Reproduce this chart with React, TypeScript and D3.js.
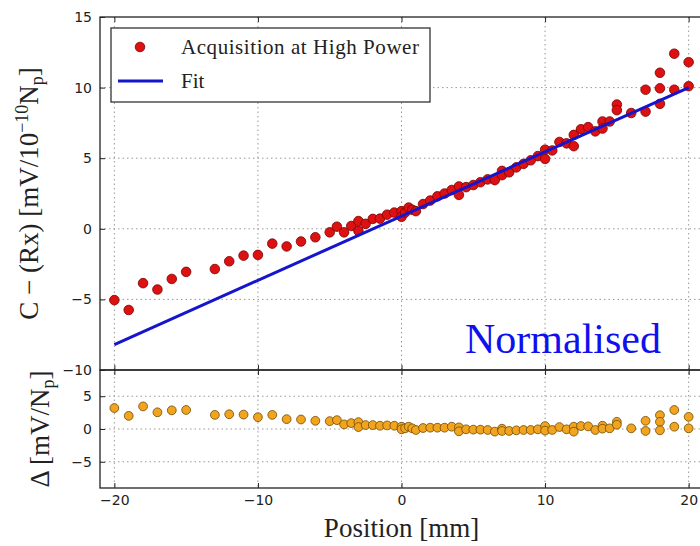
import React, { useEffect, useRef } from 'react';
import * as d3 from 'd3';

// position of each acquisition [mm]
const positions = [
  -20, -19, -18, -17, -16, -15, -13, -12, -11, -10, -9, -8, -7, -6, -5, -4.5, -4, -3.5, -3, -3,
  -2.5, -2, -1.5, -1, -0.5, 0, 0, 0.25, 0.5, 0.75, 1, 1.5, 2, 2.5, 3, 3.5, 4, 4, 4.5, 5,
  5.5, 6, 6.5, 7, 7, 7.5, 8, 8.5, 9, 9.5, 10, 10, 10.5, 11, 11.5, 12, 12, 12.5, 13, 13.5,
  14, 14, 14.5, 15, 15, 16, 17, 17, 18, 18, 18, 19, 19, 20, 20,
];
// C - (Rx) at high power
const acquisition = [
  -5.05, -5.75, -3.85, -4.3, -3.55, -3.05, -2.85, -2.3, -1.9, -1.85, -1.05, -1.25, -0.9, -0.6, -0.25, 0.15, -0.25, 0.2, 0.55, -0.15,
  0.35, 0.7, 0.72, 1.0, 1.15, 1.25, 0.85, 1.15, 1.5, 1.35, 1.25, 1.75, 2.0, 2.3, 2.5, 2.75, 3.0, 2.4, 2.95, 3.1,
  3.3, 3.5, 3.45, 4.1, 3.8, 4.0, 4.35, 4.6, 4.85, 5.15, 5.6, 4.95, 5.55, 6.15, 6.05, 6.65, 5.85, 7.05, 7.2, 6.9,
  7.6, 7.1, 7.6, 8.8, 8.4, 8.2, 9.85, 8.3, 11.05, 9.95, 8.85, 12.4, 9.85, 11.8, 10.1,
];
// residuals to the fit
const residuals = [
  3.2, 2.0, 3.45, 2.55, 2.85, 2.9, 2.15, 2.25, 2.2, 1.8, 2.15, 1.5, 1.45, 1.25, 1.2, 1.35, 0.7, 0.9, 1.05, 0.3,
  0.6, 0.6, 0.5, 0.55, 0.5, 0.35, -0.05, 0.1, 0.35, 0.1, -0.15, 0.15, 0.2, 0.2, 0.2, 0.35, 0.25, -0.35, -0.05, -0.1,
  -0.1, -0.15, -0.4, 0.05, -0.3, -0.3, -0.2, -0.15, -0.15, -0.05, 0.45, -0.25, -0.15, 0.3, -0.05, 0.35, -0.4, 0.45, 0.4, -0.15,
  0.5, 0.05, 0.1, 1.1, 0.65, 0.1, 1.25, -0.3, 2.1, 1.1, -0.2, 2.9, 0.35, 1.85, 0.1,
];
const fitX = [-20, 20];
const fitY = [-8.2, 10.0];

const xTicks = [-20, -10, 0, 10, 20];
const topTicks = [-10, -5, 0, 5, 10, 15];
const bottomTicks = [-5, 0, 5];

export default function App() {
  const ref = useRef<SVGSVGElement>(null);

  useEffect(() => {
    const width = 700, height = 546;
    const left = 100, right = 703, top = 17, mid = 370, bottom = 488;

    const x = d3.scaleLinear().domain([-21, 21]).range([left, right]);
    const yTop = d3.scaleLinear().domain([-10, 15]).range([mid, top]);
    const yBot = d3.scaleLinear().domain([-9, 9]).range([bottom, mid]);

    const svg = d3.select(ref.current);
    svg.selectAll('*').remove();
    svg.attr('width', width).attr('height', height);

    const tickFont = (g: any) => g
      .call((g: any) => g.select('.domain').remove())
      .call((g: any) => g.selectAll('text').attr('font-family', 'DejaVu Sans').attr('font-size', 14).attr('fill', '#222'))
      .call((g: any) => g.selectAll('line').attr('stroke', '#222'));

    // grid lines
    const grid = svg.append('g').attr('stroke', '#999').attr('stroke-dasharray', '1.5,3').attr('stroke-width', 1);
    xTicks.forEach(t => {
      grid.append('line').attr('x1', x(t)).attr('x2', x(t)).attr('y1', top).attr('y2', bottom);
    });
    topTicks.slice(1, -1).forEach(t => {
      grid.append('line').attr('x1', left).attr('x2', right).attr('y1', yTop(t)).attr('y2', yTop(t));
    });
    bottomTicks.forEach(t => {
      grid.append('line').attr('x1', left).attr('x2', right).attr('y1', yBot(t)).attr('y2', yBot(t));
    });

    // upper panel: acquisitions and fit
    svg.append('g').selectAll('circle')
      .data(positions)
      .join('circle')
      .attr('cx', d => x(d))
      .attr('cy', (d, i) => yTop(acquisition[i]))
      .attr('r', 4.8)
      .attr('fill', '#dd1111')
      .attr('stroke', '#7a0000')
      .attr('stroke-width', 0.8);

    const line = d3.line<number>()
      .x(d => x(d))
      .y((d, i) => yTop(fitY[i]));
    svg.append('path')
      .datum(fitX)
      .attr('d', line)
      .attr('fill', 'none')
      .attr('stroke', '#1515cc')
      .attr('stroke-width', 3);

    // lower panel: residuals
    svg.append('g').selectAll('circle')
      .data(positions)
      .join('circle')
      .attr('cx', d => x(d))
      .attr('cy', (d, i) => yBot(residuals[i]))
      .attr('r', 4.4)
      .attr('fill', '#f2a41f')
      .attr('stroke', '#6e4a00')
      .attr('stroke-width', 0.8);

    // axes (inward ticks, matplotlib style)
    svg.append('g').attr('transform', `translate(${left},0)`)
      .call(d3.axisLeft(yTop).tickValues(topTicks).tickSizeInner(-5).tickSizeOuter(0).tickPadding(8))
      .call(tickFont);
    svg.append('g').attr('transform', `translate(${left},0)`)
      .call(d3.axisLeft(yBot).tickValues(bottomTicks).tickSizeInner(-5).tickSizeOuter(0).tickPadding(8))
      .call(tickFont);
    svg.append('g').attr('transform', `translate(0,${top})`)
      .call(d3.axisTop(x).tickValues(xTicks).tickSizeInner(-5).tickSizeOuter(0).tickFormat(() => ''))
      .call(tickFont);
    svg.append('g').attr('transform', `translate(0,${mid})`)
      .call(d3.axisBottom(x).tickValues(xTicks).tickSizeInner(-5).tickSizeOuter(0).tickFormat(() => ''))
      .call(tickFont);
    svg.append('g').attr('transform', `translate(0,${mid})`)
      .call(d3.axisTop(x).tickValues(xTicks).tickSizeInner(-5).tickSizeOuter(0).tickFormat(() => ''))
      .call(tickFont);
    svg.append('g').attr('transform', `translate(0,${bottom})`)
      .call(d3.axisBottom(x).tickValues(xTicks).tickSizeInner(-5).tickSizeOuter(0).tickPadding(7))
      .call(tickFont);

    // frames
    svg.append('rect').attr('x', left).attr('y', top).attr('width', right - left).attr('height', mid - top)
      .attr('fill', 'none').attr('stroke', '#222').attr('stroke-width', 1.3);
    svg.append('rect').attr('x', left).attr('y', mid).attr('width', right - left).attr('height', bottom - mid)
      .attr('fill', 'none').attr('stroke', '#222').attr('stroke-width', 1.3);

    // legend
    const legend = svg.append('g').attr('font-family', 'Liberation Serif').attr('font-size', 21).attr('fill', '#222');
    legend.append('rect').attr('x', 111).attr('y', 28).attr('width', 319).attr('height', 74)
      .attr('fill', 'white').attr('stroke', '#333').attr('stroke-width', 1.3);
    legend.append('circle').attr('cx', 140).attr('cy', 47).attr('r', 4.8)
      .attr('fill', '#dd1111').attr('stroke', '#7a0000').attr('stroke-width', 0.8);
    legend.append('text').attr('x', 181).attr('y', 54).attr('textLength', 238).text('Acquisition at High Power');
    legend.append('line').attr('x1', 118).attr('x2', 163).attr('y1', 81).attr('y2', 81)
      .attr('stroke', '#1515cc').attr('stroke-width', 3);
    legend.append('text').attr('x', 181).attr('y', 88).text('Fit');

    // annotation
    svg.append('text').attr('x', 465).attr('y', 353)
      .attr('font-family', 'Liberation Serif').attr('font-size', 42).attr('fill', '#1010ee')
      .text('Normalised');

    // axis labels
    const yLab = svg.append('text')
      .attr('transform', `translate(38,${(top + mid) / 2}) rotate(-90)`)
      .attr('text-anchor', 'middle')
      .attr('font-family', 'Liberation Serif').attr('font-size', 27).attr('fill', '#222');
    yLab.append('tspan').text('C − (Rx) [mV/10');
    yLab.append('tspan').attr('font-size', 18).attr('dy', -10).text('−10');
    yLab.append('tspan').attr('dy', 10).text('N');
    yLab.append('tspan').attr('font-size', 18).attr('dy', 5).text('p');
    yLab.append('tspan').attr('dy', -5).text(']');

    const dLab = svg.append('text')
      .attr('transform', `translate(49,${(mid + bottom) / 2}) rotate(-90)`)
      .attr('text-anchor', 'middle')
      .attr('font-family', 'Liberation Serif').attr('font-size', 27).attr('fill', '#222');
    dLab.append('tspan').text('Δ [mV/N');
    dLab.append('tspan').attr('font-size', 18).attr('dy', 5).text('p');
    dLab.append('tspan').attr('dy', -5).text(']');

    svg.append('text').attr('x', x(0)).attr('y', 537).attr('text-anchor', 'middle')
      .attr('font-family', 'Liberation Serif').attr('font-size', 27).attr('fill', '#222')
      .text('Position [mm]');
  }, []);

  return <svg ref={ref} style={{ position: 'absolute', left: 0, top: 0, background: 'white' }} />;
}
